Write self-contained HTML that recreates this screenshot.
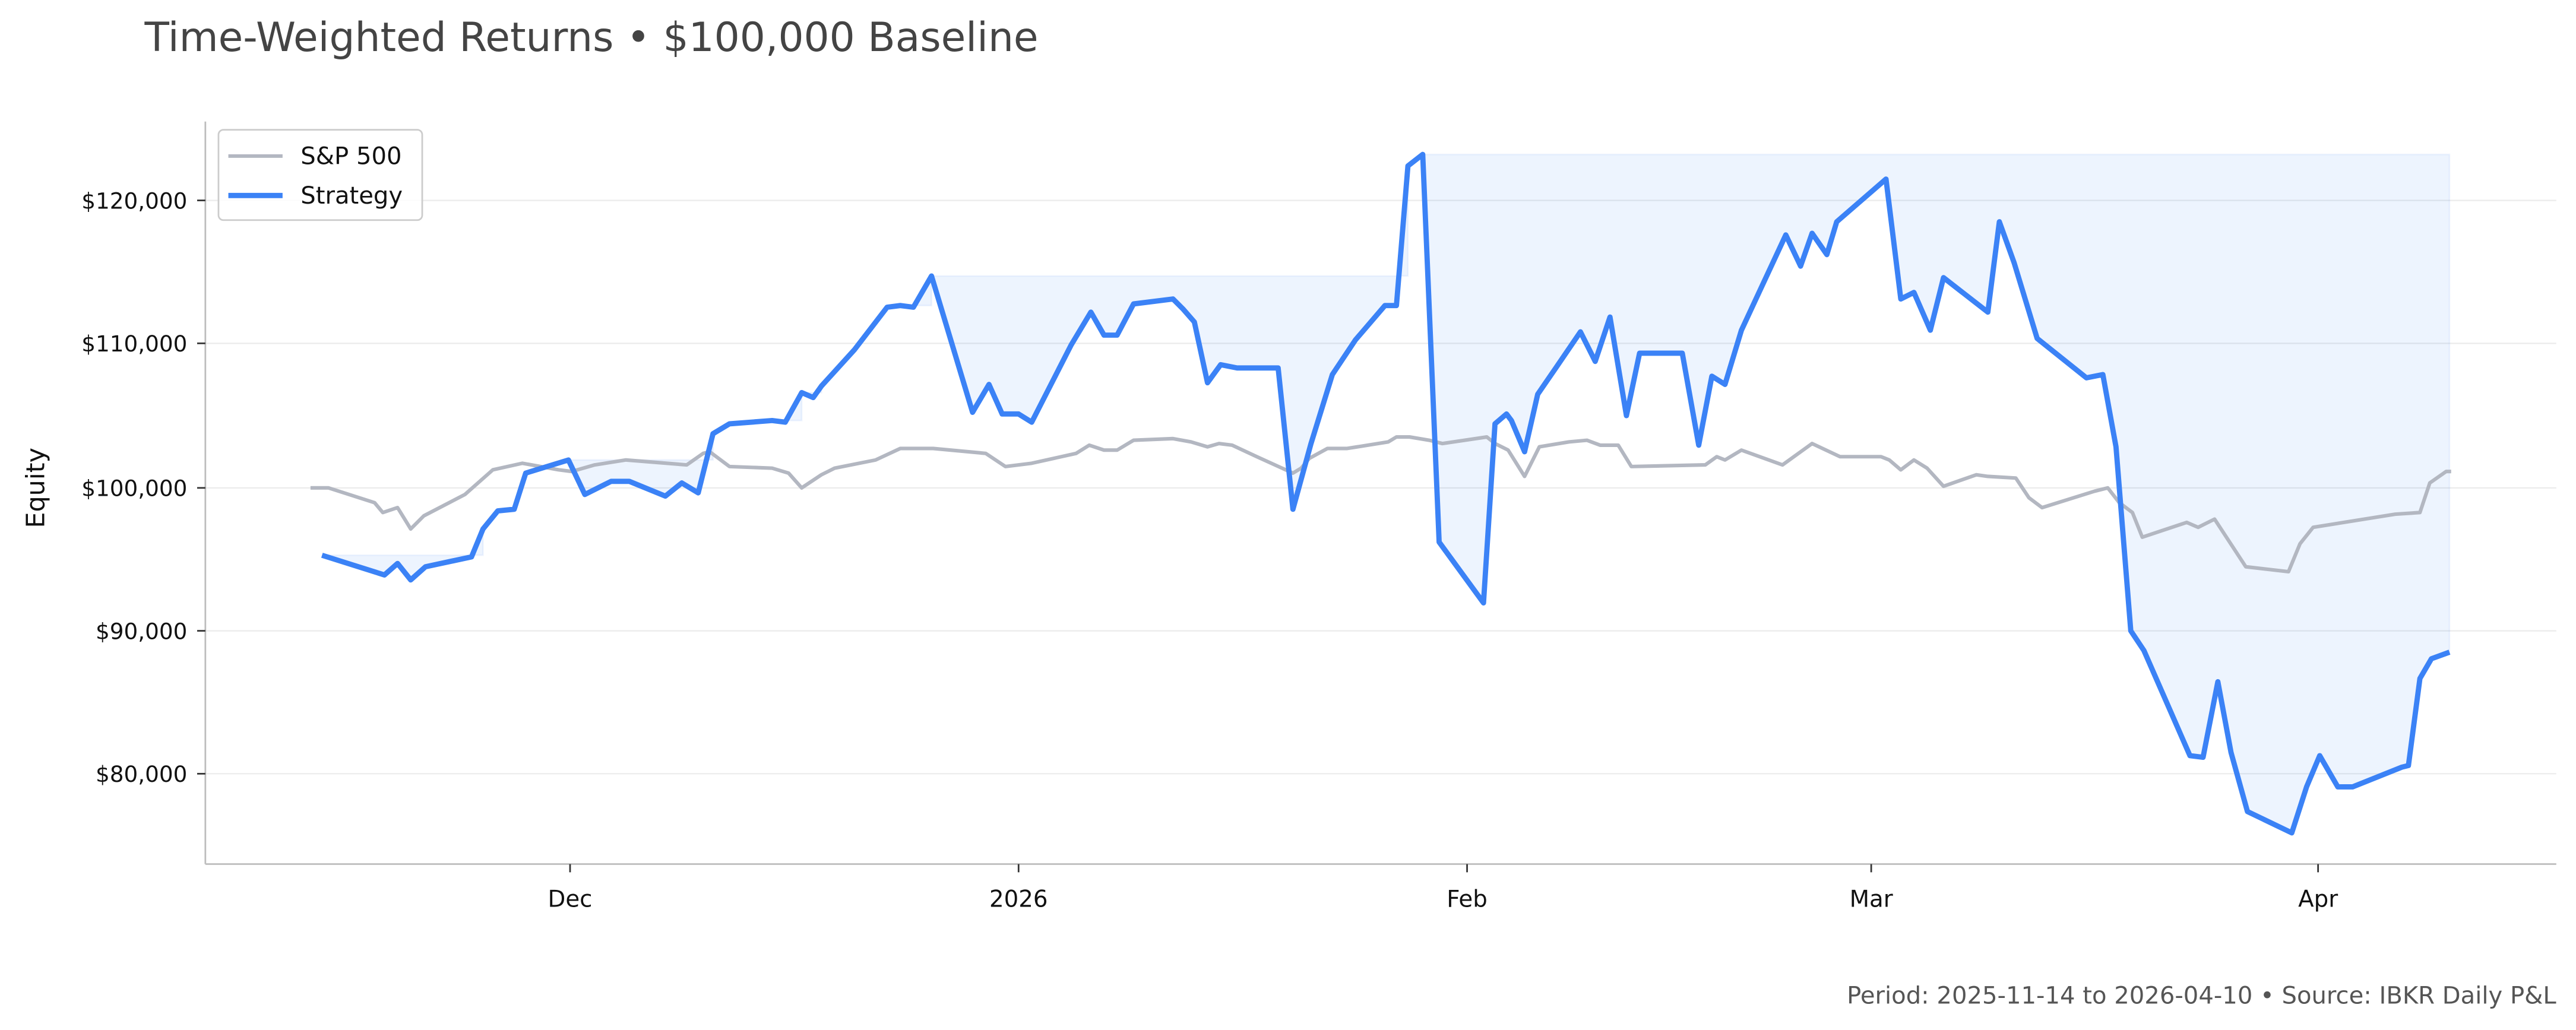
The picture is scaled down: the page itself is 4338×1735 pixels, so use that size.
<!DOCTYPE html>
<html><head><meta charset="utf-8"><style>
html,body{margin:0;padding:0;background:#fff;}
svg{display:block;}
text{font-family:"DejaVu Sans","Liberation Sans",sans-serif;}
</style></head><body>
<svg id="c" width="4338" height="1735" viewBox="0 0 1568 627" preserveAspectRatio="none" xmlns="http://www.w3.org/2000/svg">
<rect width="1568" height="627" fill="#fff"/>
<text x="88" y="31" font-size="24.5" fill="#444">Time-Weighted Returns • $100,000 Baseline</text>
<g stroke="#ebebeb" stroke-width="0.8">
<line x1="125" x2="1556" y1="122" y2="122"/>
<line x1="125" x2="1556" y1="209" y2="209"/>
<line x1="125" x2="1556" y1="297" y2="297"/>
<line x1="125" x2="1556" y1="384" y2="384"/>
<line x1="125" x2="1556" y1="471" y2="471"/>
</g>
<g id="fill"></g>
<polyline fill="none" stroke="#b3b7c1" stroke-width="2.2" stroke-linejoin="round" points="189,297 200,297 228,306 233,312 242,309 250,322 258,314 283,301 300,286 318,282 340,286 348,287 362,283 381,280 418,283 428,276 432,275 444,284 470,285 480,288 488,297 500,289 508,285 533,280 548,273 568,273 600,276 612,284 628,282 655,276 663,271 672,274 680,274 690,268 714,267 725,269 735,272 742,270 750,271 765,278 787,288 792,285 797,279 808,273 820,273 845,269 850,266 858,266 870,268 878,270 905,266 910,270 918,274 928,290 937,272 955,269 966,268 974,271 985,271 993,284 1038,283 1045,278 1050,280 1060,274 1085,283 1103,270 1120,278 1145,278 1150,280 1157,286 1165,280 1173,285 1183,296 1203,289 1210,290 1227,291 1235,303 1243,309 1275,299 1283,297 1290,306 1298,312 1304,327 1331,318 1338,321 1348,316 1367,345 1393,348 1400,331 1408,321 1458,313 1473,312 1479,294 1489,287 1492,287"/>
<polyline id="strat" fill="none" stroke="#3b82f6" stroke-width="3.2" stroke-linejoin="round" points="196,338 234,350 242,343 250,353 259,345 287,339 294,322 303,311 313,310 320,288 346,280 356,301 372,293 383,293 405,302 415,294 425,300 434,264 444,258 470,256 478,257 488,239 495,242 500,235 520,213 540,187 548,186 556,187 567,168 592,251 602,234 610,252 620,252 628,257 652,210 664,190 672,204 680,204 690,185 714,182 720,188 727,196 735,233 743,222 753,224 778,224 787,310 798,270 811,228 825,207 843,186 850,186 857,101 866,94 876,330 903,367 910,258 917,252 920,256 928,275 936,240 947,224 962,202 971,220 980,193 990,253 998,215 1024,215 1034,271 1042,229 1050,234 1060,201 1087,143 1096,162 1103,142 1112,155 1118,135 1148,109 1157,182 1165,178 1175,201 1183,169 1210,190 1217,135 1226,160 1240,206 1270,230 1280,228 1288,272 1297,384 1305,396 1333,460 1341,461 1350,415 1358,458 1368,494 1395,507 1404,479 1412,460 1423,479 1432,479 1462,467 1466,466 1473,413 1480,401 1491,397"/>
<g stroke="#bdbdbd" stroke-width="1">
<line x1="125" y1="74" x2="125" y2="526"/>
<line x1="125" y1="526" x2="1556" y2="526"/>
</g>
<g stroke="#333" stroke-width="1">
<line x1="120" x2="125" y1="122" y2="122"/><line x1="120" x2="125" y1="209" y2="209"/><line x1="120" x2="125" y1="297" y2="297"/><line x1="120" x2="125" y1="384" y2="384"/><line x1="120" x2="125" y1="471" y2="471"/>
<line x1="347" x2="347" y1="526" y2="531"/><line x1="620" x2="620" y1="526" y2="531"/><line x1="893" x2="893" y1="526" y2="531"/><line x1="1139" x2="1139" y1="526" y2="531"/><line x1="1411" x2="1411" y1="526" y2="531"/>
</g>
<g font-size="13.5" fill="#111" text-anchor="end">
<text x="114" y="127">$120,000</text><text x="114" y="214">$110,000</text><text x="114" y="302">$100,000</text><text x="114" y="389">$90,000</text><text x="114" y="476">$80,000</text>
</g>
<g font-size="14" fill="#111" text-anchor="middle">
<text x="347" y="552">Dec</text><text x="620" y="552">2026</text><text x="893" y="552">Feb</text><text x="1139" y="552">Mar</text><text x="1411" y="552">Apr</text>
</g>
<text transform="translate(27,297) rotate(-90)" font-size="15.5" fill="#111" text-anchor="middle">Equity</text>
<text x="1556" y="611" font-size="14.5" fill="#555" text-anchor="end">Period: 2025-11-14 to 2026-04-10 • Source: IBKR Daily P&amp;L</text>
<rect x="133" y="79" width="124" height="55" rx="3" fill="#fff" fill-opacity="0.85" stroke="#ccc" stroke-width="1"/>
<line x1="139" x2="172" y1="95" y2="95" stroke="#b3b7c1" stroke-width="2.2"/>
<line x1="139" x2="172" y1="119" y2="119" stroke="#3b82f6" stroke-width="3.2"/>
<text x="183" y="100" font-size="14.5" fill="#111">S&amp;P 500</text>
<text x="183" y="124" font-size="14.5" fill="#111">Strategy</text>
</svg>
<script>
(function(){
var pts=document.getElementById('strat').getAttribute('points').trim().split(/\s+/).map(function(p){var a=p.split(',');return [+a[0],+a[1]];});
var g=document.getElementById('fill');var ns='http://www.w3.org/2000/svg';
var peak=pts[0][1];var seg=null;var segs=[];
for(var i=0;i<pts.length;i++){var p=pts[i];
 if(p[1]<=peak){ if(seg){seg.push([p[0],peak,p[1]]);segs.push(seg);seg=null;} peak=p[1]; }
 else { if(!seg){seg=[[pts[i-1][0],peak,pts[i-1][1]]];} seg.push([p[0],peak,p[1]]); }
}
if(seg)segs.push(seg);
segs.forEach(function(s){var top=s.map(function(q){return q[0]+','+q[1];});var bot=s.slice().reverse().map(function(q){return q[0]+','+q[2];});
 var pl=document.createElementNS(ns,'polygon');pl.setAttribute('points',top.concat(bot).join(' '));
 pl.setAttribute('fill','#3b82f6');pl.setAttribute('fill-opacity','0.09');pl.setAttribute('stroke','#3b82f6');pl.setAttribute('stroke-opacity','0.08');g.appendChild(pl);});
})();
</script>
</body></html>
